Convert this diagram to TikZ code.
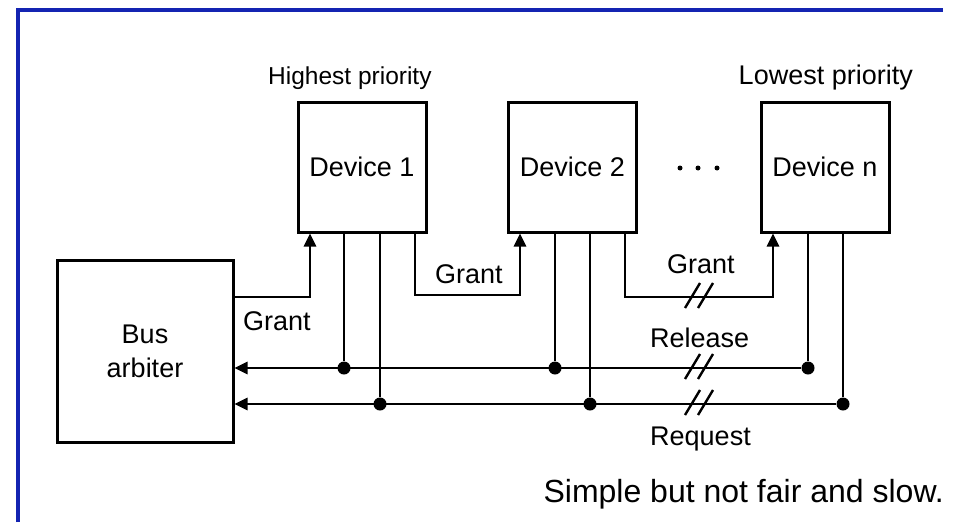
\documentclass[tikz,border=0pt]{standalone}
\usepackage{fontspec}
\setmainfont{Liberation Sans}
\usetikzlibrary{arrows.meta,positioning}
\definecolor{frameblue}{RGB}{20,36,178}

\begin{document}
\begin{tikzpicture}
[x=1pt,y=-1pt,
box/.style={draw=black,line width=3pt,font=\fontsize{27}{34}\selectfont},
bullet/.style={circle,fill=black,inner sep=0pt,minimum size=13pt},
ellip/.style={circle,fill=black,inner sep=0pt,minimum size=5pt},
wire/.style={line width=2.6pt},
tip/.style={-{Triangle[length=13pt,width=12pt]}},
lbl/.style={font=\fontsize{27}{34}\selectfont,inner sep=0pt,anchor=base west},
brk/.pic={\draw[line width=2.4pt] (-14,11) -- (1,-14) (-1,11) -- (14,-14);}]
\useasboundingbox (0,0) rectangle (960,522);
\draw[frameblue,line width=4pt] (18,522) -- (18,10) -- (943,10);

% arbiter and devices
\node[box,minimum width=176pt,minimum height=182pt,align=center] (arb) at (145,351) {Bus\\arbiter};
\node[box,minimum width=128pt,minimum height=130pt] (dev1) at (362,167) {Device 1};
\node[box,minimum width=128pt,minimum height=130pt] (dev2) at (572.5,167) {Device 2};
\node[box,minimum width=128pt,minimum height=130pt] (devn) at (825,167) {Device n};

\node[lbl,font=\fontsize{24.5}{30}\selectfont] (hi) at (268,84) {Highest priority};
\node[lbl,anchor=base east] (lo) at (913,84) {Lowest priority};
\foreach \x in {680,698,717}
  \node[ellip] at (\x,168) {};

% taps on the release and request lines
\node[bullet] (r1) at (344,368) {};
\node[bullet] (r2) at (555,368) {};
\node[bullet] (rn) at (808,368) {};
\node[bullet] (q1) at (380,404) {};
\node[bullet] (q2) at (590,404) {};
\node[bullet] (qn) at (843,404) {};

\coordinate (a1) at (310,297);
\coordinate (b1) at (415,295);
\coordinate (b2) at (520,295);
\coordinate (c1) at (625,297);
\coordinate (c2) at (773,297);
\coordinate (cut) at (699,0);

% grant daisy chain
\draw[wire,tip] (arb.east |- a1) -- (a1) -- (a1 |- dev1.south);
\draw[wire,tip] (b1 |- dev1.south) -- (b1) -- (b2) -- (b2 |- dev2.south);
\draw[wire,tip] (c1 |- dev2.south) -- (c1) -- (c2) -- (c2 |- devn.south);

\draw[wire] (r1 |- dev1.south) -- (r1);
\draw[wire] (r2 |- dev2.south) -- (r2);
\draw[wire] (rn |- devn.south) -- (rn);
\draw[wire] (q1 |- dev1.south) -- (q1);
\draw[wire] (q2 |- dev2.south) -- (q2);
\draw[wire] (qn |- devn.south) -- (qn);

\draw[wire,tip] (rn) -- (rn -| arb.east);
\draw[wire,tip] (qn) -- (qn -| arb.east);

\pic at (cut |- c1) {brk};
\pic at (cut |- rn) {brk};
\pic at (cut |- qn) {brk};

\node[lbl] (ga) at (243,330) {Grant};
\node[lbl] (g1) at (435,283) {Grant};
\node[lbl] (g2) at (667,273) {Grant};
\node[lbl] (rel) at (650,347) {Release};
\node[lbl] (req) at (650,445) {Request};

\node[font=\fontsize{32}{38}\selectfont,inner sep=0pt,anchor=base east] (note) at (944,502) {Simple but not fair and slow.};
\end{tikzpicture}
\end{document}
